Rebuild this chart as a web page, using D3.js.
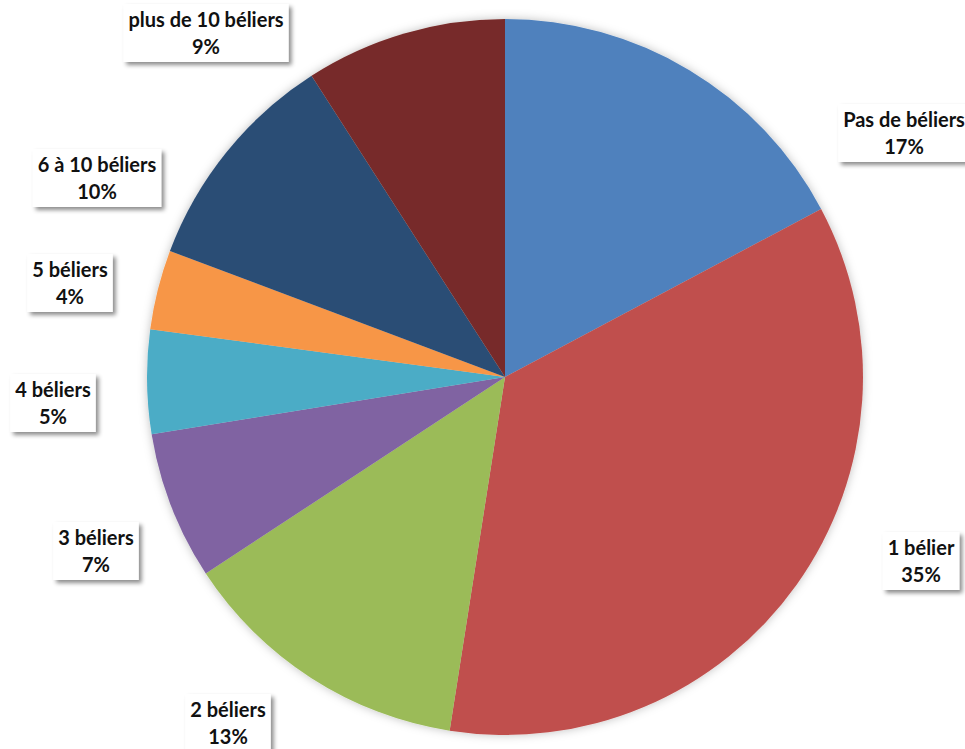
<!DOCTYPE html>
<html><head><meta charset="utf-8">
<script src="https://cdn.jsdelivr.net/npm/d3@7"></script>
<style>body{margin:0;background:#fff;}svg{display:block;}</style>
</head><body>
<svg id="c" width="965" height="749"></svg>
<script>
const categories = ["Pas de béliers","1 bélier","2 béliers","3 béliers","4 béliers","5 béliers","6 à 10 béliers","plus de 10 béliers"];
const values = [17.25, 35.3, 13.3, 6.7, 4.7, 3.6, 10.2, 9.1];
const percentLabels = ["17%","35%","13%","7%","5%","4%","10%","9%"];
const colors = ["#4F81BD","#C0504D","#9BBB59","#8064A2","#4BACC6","#F79646","#2C4D75","#772C2A"];
// label centre positions (layout)
const labelCenters = [[904,133],[921,561],[228,723],[96,551],[53,403],[70,283],[97,178],[206,33]];

const svg = d3.select("#c");
const defs = svg.append("defs");
const f = defs.append("filter").attr("id","sh").attr("x","-20%").attr("y","-20%").attr("width","150%").attr("height","150%");
f.append("feDropShadow").attr("dx",3).attr("dy",3).attr("stdDeviation",2).attr("flood-color","#000").attr("flood-opacity",0.45);
const f2 = defs.append("filter").attr("id","psh").attr("x","-10%").attr("y","-10%").attr("width","120%").attr("height","120%");
f2.append("feDropShadow").attr("dx",0).attr("dy",0).attr("stdDeviation",5).attr("flood-color","#000").attr("flood-opacity",0.25);

const cx = 505, cy = 377, R = 358;
const pie = d3.pie().sort(null).value(d => d)(values);
const arc = d3.arc().innerRadius(0).outerRadius(R);
const g = svg.append("g").attr("transform",`translate(${cx},${cy})`).attr("filter","url(#psh)");
g.selectAll("path").data(pie).join("path").attr("d",arc).attr("fill",(d,i)=>colors[i]);

const lg = svg.append("g");
categories.forEach((c,i)=>{
  const [x,y] = labelCenters[i];
  const gg = lg.append("g").attr("transform",`translate(${x},${y})`);
  const rect = gg.append("rect").attr("fill","#fff").attr("filter","url(#sh)");
  const t1 = gg.append("text").attr("text-anchor","middle").attr("y",-6)
    .attr("font-family","Lato, 'Open Sans', sans-serif").attr("font-weight","bold").attr("font-size",20).attr("fill","#111").text(c);
  const t2 = gg.append("text").attr("text-anchor","middle").attr("y",21)
    .attr("font-family","Lato, 'Open Sans', sans-serif").attr("font-weight","bold").attr("font-size",20).attr("fill","#111").text(percentLabels[i]);
  const w = Math.max(t1.node().getComputedTextLength(), t2.node().getComputedTextLength()) + 10;
  rect.attr("x",-w/2).attr("y",-29).attr("width",w).attr("height",58);
});
</script>
</body></html>
